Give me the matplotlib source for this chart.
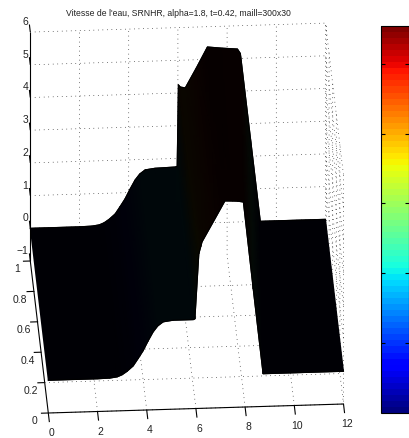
import numpy as np
import matplotlib
matplotlib.use("Agg")
import matplotlib.pyplot as plt
from matplotlib.cm import ScalarMappable
from matplotlib.colors import ListedColormap, Normalize

plt.rcParams["font.family"] = ["Liberation Sans", "DejaVu Sans"]

# water speed along the front (y=0) and back (y=1) edges.
x_front = [0.0, 2.0, 2.5, 2.8, 3.0, 3.2, 3.45, 3.65, 3.85, 4.05, 4.26, 4.45, 4.67, 5.07,
           5.9, 5.96, 6.12, 6.2, 6.25, 6.75, 7.18, 7.5, 7.7, 7.93, 8.33, 8.73, 12.0]
z_front = [0.0, 0.0, 0.01, 0.04, 0.1, 0.2, 0.36, 0.58, 0.81, 1.1, 1.38, 1.56, 1.68, 1.72,
           1.72, 1.74, 3.73, 3.95, 4.09, 4.75, 5.32, 5.31, 5.3, 5.27, 2.6, 0.0, 0.0]
x_back = [0.0, 2.0, 2.5, 2.8, 3.0, 3.2, 3.45, 3.65, 3.85, 4.05, 4.26, 4.45, 4.67, 5.07,
          5.9, 5.97, 6.02, 6.1, 6.3, 6.75, 7.2, 7.8, 8.42, 8.54, 8.95, 9.35, 12.0]
z_back = [0.0, 0.0, 0.01, 0.04, 0.1, 0.2, 0.36, 0.58, 0.81, 1.1, 1.38, 1.56, 1.68, 1.72,
          1.74, 1.76, 4.25, 4.18, 4.15, 4.75, 5.38, 5.33, 5.29, 5.15, 2.55, 0.0, 0.0]

x_ticks = [0, 2, 4, 6, 8, 10, 12]
y_ticks = [0, 0.2, 0.4, 0.6, 0.8, 1]
z_ticks = [-1, 0, 1, 2, 3, 4, 5, 6]
cbar_ticks = [1, 2, 3, 4, 5]
title = "Vitesse de l'eau, SRNHR, alpha=1.8, t=0.42, maill=300x30"

W, H = 410, 439
C_MIN, C_MAX = 0, 5.54


# parallel projection of the 3d box on the picture, in pixels.
def project(x, y, z):
    x, y, z = np.asarray(x, float), np.asarray(y, float), np.asarray(z, float)
    return 48.3 + 24.6 * x - 18 * y, 414 - 0.75 * x - 152 * y - 32.7 * (z + 1)


def line3d(ax, x, y, z, **style):
    sx, sy = project(x, y, z)
    ax.plot(sx, sy, **style)


fig = plt.figure(figsize=(W / 100, H / 100), dpi=100)
ax = fig.add_axes([0, 0, 1, 1])
ax.set_xlim(0, W)
ax.set_ylim(H, 0)
ax.axis("off")

jet = plt.get_cmap("jet", 64)

# dotted grid on the floor, the back wall and the right wall
grid = dict(color="k", lw=0.5, ls=(0, (1, 5.5)), zorder=1)
for x in x_ticks[1:]:
    line3d(ax, [x, x, x], [0, 1, 1], [-1, -1, 6], **grid)
for y in y_ticks[:-1]:
    line3d(ax, [0, 12, 12], [y, y, y], [-1, -1, 6], **grid)
for z in z_ticks[1:]:
    line3d(ax, [0, 12, 12], [1, 1, 0], [z, z, z], **grid)
line3d(ax, [12, 12], [1, 1], [-1, 6], **grid)

# the surface: mesh lines are so dense that it comes out nearly black,
# only a trace of the colour of the faces shows through.
colours = jet(np.arange(64))
colours[:, :3] *= 0.04
dark_jet = ListedColormap(colours)
mesh_x = np.array([x_front, x_back])
mesh_y = np.array([np.zeros(len(x_front)), np.ones(len(x_back))])
mesh_z = np.array([z_front, z_back])
sx, sy = project(mesh_x, mesh_y, mesh_z)
ax.pcolormesh(sx, sy, mesh_z, cmap=dark_jet, vmin=C_MIN, vmax=C_MAX, shading="gouraud", zorder=3)
# pcolormesh leaves seams on the fold of the shock, the outline closes them
ax.plot(sx[0], sy[0], color="k", lw=0.8, zorder=3)
ax.plot(sx[1], sy[1], color="k", lw=0.8, zorder=3)

# axis lines and ticks
axis = dict(color="k", lw=0.8, zorder=4, solid_capstyle="butt")
line3d(ax, [0, 12], [0, 0], [-1, -1], **axis)
line3d(ax, [0, 0], [0, 1], [-1, -1], **axis)
line3d(ax, [0, 0], [1, 1], [-1, 6], **axis)
for x in x_ticks:
    line3d(ax, [x, x], [0, -0.06], [-1, -1], **axis)
for y in y_ticks:
    line3d(ax, [0, -0.3], [y, y], [-1, -1], **axis)
for z in z_ticks:
    line3d(ax, [0, 0], [1, 1.05], [z, z], **axis)

label = dict(fontsize=7.5, color="#222222", zorder=5)
for x in x_ticks:
    sx, sy = project(x, -0.12, -1)
    ax.text(sx + 1, sy + 1, str(x), ha="center", va="center", **label)
for y in y_ticks:
    sx, sy = project(-0.55, y, -1)
    ax.text(sx, sy + 7, str(y), ha="center", va="center", **label)
for z in z_ticks:
    sx, sy = project(0, 1, z)
    ax.text(sx - 2, sy - 11, str(z).replace("-", "\u2212"), ha="right", va="center", **label)

ax.text(178.5, 14, title, ha="center", va="center", fontsize=6.2, color="#222222")

# colour bar, its labels are cut off in the original
cax = fig.add_axes([381 / W, 1 - 414 / H, 28 / W, 387 / H])
cbar = fig.colorbar(ScalarMappable(Normalize(C_MIN, C_MAX), jet), cax=cax, ticks=cbar_ticks)
cbar.ax.tick_params(axis="y", which="both", direction="in", left=True, right=True, labelright=False, length=3, width=0.8)
cbar.minorticks_off()
cbar.outline.set_linewidth(0.8)

fig.savefig("out.png", dpi=100)
plt.close(fig)
